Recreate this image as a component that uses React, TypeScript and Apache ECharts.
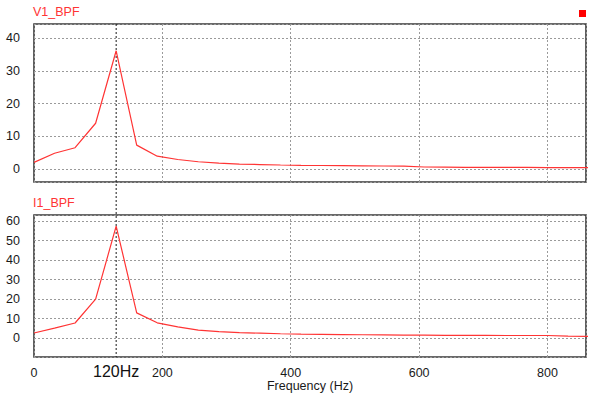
import React, { useEffect, useRef } from "react";
import * as echarts from "echarts";

const freqs = [0, 32, 64, 96, 128, 160, 192, 224, 256, 288, 320, 352, 384, 416, 448, 480, 512, 544, 576, 608, 640, 672, 704, 736, 768, 800, 832, 864];
const v1Values = [2.0, 4.8, 6.5, 14.0, 36.2, 7.3, 3.9, 2.9, 2.2, 1.8, 1.5, 1.35, 1.2, 1.1, 1.05, 1.0, 0.95, 0.9, 0.85, 0.6, 0.55, 0.5, 0.5, 0.45, 0.45, 0.4, 0.4, 0.4];
const i1Values = [2.7, 5.2, 7.8, 20.0, 57.4, 13.0, 7.9, 5.8, 4.2, 3.4, 2.9, 2.6, 2.3, 2.1, 2.0, 1.9, 1.8, 1.7, 1.6, 1.6, 1.5, 1.5, 1.5, 1.4, 1.4, 1.4, 1.1, 1.0];
const xTicks = [0, 200, 400, 600, 800];
const titles = ["V1_BPF", "I1_BPF"];
const cursorFreq = 128;
const cursorLabel = "120Hz";
const xAxisName = "Frequency (Hz)";

const FONT = "'Liberation Sans', Arial, sans-serif";
const RED = "#ff3434";

export default function App() {
  const ref = useRef<HTMLDivElement>(null);
  useEffect(() => {
    if (!ref.current) return;
    const chart = echarts.init(ref.current, null, { renderer: "svg" });
    const grids = [
      { left: 34, right: 8, top: 24, height: 158 },
      { left: 34, right: 8, top: 215, height: 142 },
    ];
    const yRanges = [
      [-4, 44.4],
      [-9.6, 63.1],
    ];
    const gridLine = { lineStyle: { color: "#9a9a9a", type: [2, 2] as any, width: 1 } };
    const yLabelFmt = (v: number) => (Math.abs(v % 10) < 1e-6 ? String(Math.round(v)) : "");
    const xLabelFmt = (v: number) => (xTicks.includes(Math.round(v * 1000) / 1000) ? String(v) : "");
    const option: any = {
      animation: false,
      backgroundColor: "#ffffff",
      title: titles.map((t, i) => ({
        text: t,
        left: 33,
        top: i === 0 ? 5 : 196,
        padding: 0,
        textStyle: { color: RED, fontSize: 12.5, fontWeight: "normal", fontFamily: FONT },
      })),
      grid: grids.map((g) => ({ ...g, show: true, borderColor: "#383838", borderWidth: 1.6, backgroundColor: "transparent" })),
      xAxis: [0, 1].map((i) => ({
        type: "value",
        gridIndex: i,
        min: 0,
        max: 860,
        minInterval: 200,
        maxInterval: 200,
        axisLine: { show: false },
        axisTick: { show: false },
        axisLabel: {
          show: i === 1,
          formatter: xLabelFmt,
          color: "#1a1a1a",
          fontSize: 12.5,
          fontFamily: FONT,
          margin: 9,
          showMaxLabel: false,
        },
        splitLine: { show: true, ...gridLine },
        name: i === 1 ? xAxisName : "",
        nameLocation: "middle",
        nameGap: 22,
        nameTextStyle: { color: "#1a1a1a", fontSize: 12.5, fontFamily: FONT },
      })),
      yAxis: [0, 1].map((i) => ({
        type: "value",
        gridIndex: i,
        min: yRanges[i][0],
        max: yRanges[i][1],
        minInterval: 10,
        maxInterval: 10,
        axisLine: { show: false },
        axisTick: { show: false },
        axisLabel: {
          formatter: yLabelFmt,
          color: "#1a1a1a",
          fontSize: 12.5,
          fontFamily: FONT,
          margin: 14,
        },
        splitLine: { show: true, ...gridLine },
      })),
      series: [v1Values, i1Values].map((vals, i) => ({
        type: "line",
        xAxisIndex: i,
        yAxisIndex: i,
        data: freqs.map((f, k) => [f, vals[k]]),
        showSymbol: false,
        symbol: "none",
        lineStyle: { color: RED, width: 1.2 },
        itemStyle: { color: RED },
        z: 3,
      })),
    };
    chart.setOption(option);
    const cx = chart.convertToPixel({ xAxisIndex: 0 }, cursorFreq) as number;
    const yTop = chart.convertToPixel({ yAxisIndex: 0 }, yRanges[0][1]) as number;
    const yBot = chart.convertToPixel({ yAxisIndex: 1 }, yRanges[1][0]) as number;
    chart.setOption({
      graphic: [
        {
          type: "line",
          shape: { x1: cx, y1: yTop, x2: cx, y2: yBot },
          style: { stroke: "#1a1a1a", lineWidth: 1, lineDash: [2, 2] },
          z: 2,
        },
        {
          type: "text",
          x: cx,
          y: yBot + 14,
          style: { text: cursorLabel, fill: "#111", fontSize: 16, fontFamily: FONT, align: "center", verticalAlign: "middle" },
        },
        {
          type: "rect",
          shape: { x: 579, y: 10, width: 7, height: 7 },
          style: { fill: "#ff0000" },
        },
      ],
    });
    return () => chart.dispose();
  }, []);
  return <div ref={ref} style={{ position: "fixed", left: 0, top: 0, width: 594, height: 394 }} />;
}
